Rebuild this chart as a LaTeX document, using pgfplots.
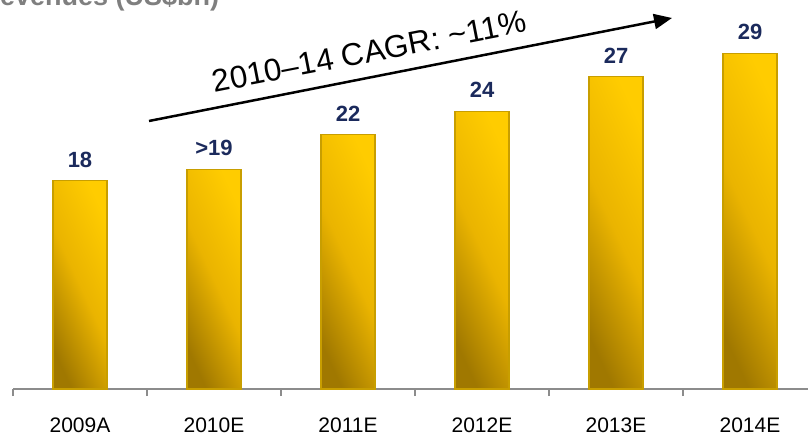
\documentclass[border=0pt]{standalone}
\usepackage{pgfplots}
\pgfplotsset{compat=1.18}
\usepackage{fontspec}
\setmainfont{Liberation Sans}
\usetikzlibrary{arrows.meta}
\definecolor{barDark}{HTML}{A07800}
\definecolor{barMid}{HTML}{EAB400}
\definecolor{barLight}{HTML}{FFCC00}
\definecolor{barEdge}{HTML}{C89E00}
\definecolor{labelNavy}{HTML}{1B2A5C}
\definecolor{axisGray}{HTML}{8C8C8C}
\definecolor{titleGray}{HTML}{7F7F7F}

\pgfplotsset{goldbar/.style={draw=barEdge, line width=1.1pt, bar shift=0pt,
    top color=barLight, bottom color=barDark, middle color=barMid, shading angle=-65}}

\begin{document}
\begin{tikzpicture}
\begin{axis}[
  at={(13pt,47pt)}, anchor=south west,
  width=804pt, height=381.5pt, scale only axis,
  xmin=-0.5, xmax=5.5, ymin=0, ymax=33,
  axis x line=bottom, axis y line=none,
  x axis line style={draw=axisGray, line width=1.5pt, -},
  xtick={0,...,5},
  xticklabels={2009A,2010E,2011E,2012E,2013E,2014E},
  major tick length=0pt,
  extra x ticks={-0.5,0.5,1.5,2.5,3.5,4.5,5.5},
  extra x tick labels={},
  extra x tick style={major tick length=7pt, tick align=outside,
    tick style={draw=axisGray, line width=1.5pt}},
  xticklabel style={font=\fontsize{21}{25}\selectfont, anchor=base, yshift=-43pt},
  ytick=\empty,
  clip=false,
  ybar, bar width=54pt,
  nodes near coords, point meta=explicit symbolic,
  nodes near coords style={font=\bfseries\fontsize{22}{26}\selectfont,
    text=labelNavy, yshift=9.7pt},
]
\addplot[goldbar] coordinates {(0,18)[18]};
\addplot[goldbar] coordinates {(1,19)[>19]};
\addplot[goldbar] coordinates {(2,22)[22]};
\addplot[goldbar] coordinates {(3,24)[24]};
\addplot[goldbar] coordinates {(4,27)[27]};
\addplot[goldbar] coordinates {(5,29)[29]};
\end{axis}
\draw[line width=2.5pt, -{Triangle[length=18pt,width=15pt]}] (149pt,315pt) -- (672pt,418pt);
\node[rotate=11, anchor=base, inner sep=0pt, font=\fontsize{31.5}{38}\selectfont]
  at (371.5pt,374pt) {2010--14 CAGR: \textasciitilde11\%};
\node[anchor=base west, inner sep=0pt, font=\bfseries\fontsize{27}{32}\selectfont, text=titleGray]
  at (-19.5pt,430pt) {Revenues (US\$bn)};
\pgfresetboundingbox
\useasboundingbox (0,0) rectangle (808pt,436pt);
\end{tikzpicture}
\end{document}
